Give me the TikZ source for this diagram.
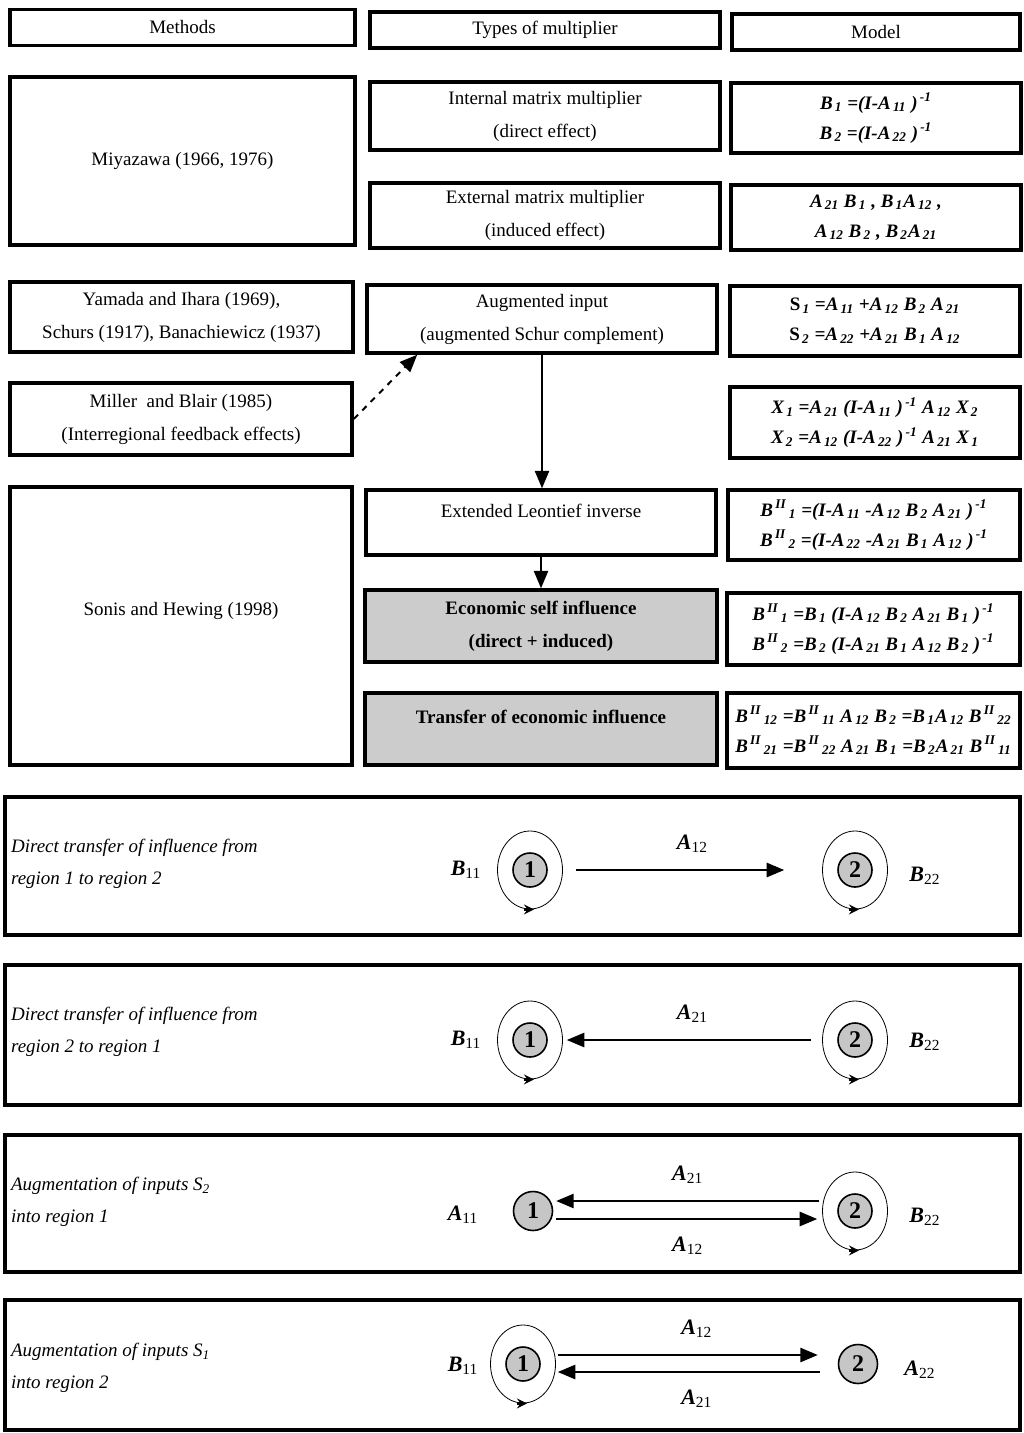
\documentclass[tikz,border=0pt]{standalone}
\usepackage{fontspec}
\setmainfont{Liberation Serif}
\usetikzlibrary{arrows,shapes.geometric}

\newcommand{\lowr}[1]{\textsubscript{\,#1}}
\newcommand{\highr}[1]{\textsuperscript{\,#1}}
\newcommand{\dprime}{\textsuperscript{\,II}}
\newcommand{\mlab}[2]{\textbf{\textit{#1}}\textsubscript{#2}}

\begin{document}
\begin{tikzpicture}[x=0.5pt,y=-0.5pt,
    every node/.style={font=\fontsize{9.5}{16.5}\selectfont},
    box/.style={draw, line width=1.8pt, align=center, inner sep=0pt},
    headbox/.style={box, minimum height=18pt},
    typebox/.style={box, minimum width=175pt, minimum height=33.5pt},
    modelbox/.style={box, minimum width=145pt, minimum height=35pt,
        font=\bfseries\itshape\fontsize{9.5}{15}\selectfont},
    greybox/.style={typebox, minimum width=176pt, minimum height=36pt, fill=gray!40,
        font=\bfseries\fontsize{9.5}{16.5}\selectfont},
    panel/.style={draw, line width=1.8pt, minimum width=507.5pt, inner sep=0pt},
    caption/.style={anchor=west, align=left, font=\itshape\fontsize{9.5}{16}\selectfont},
    region/.style={circle, draw, thick, fill=gray!45, minimum size=17pt, inner sep=0pt,
        font=\bfseries\fontsize{12}{12}\selectfont},
    loop/.style={ellipse, draw, thin, minimum width=32.5pt, minimum height=39pt},
    tag/.style={font=\fontsize{11}{11}\selectfont},
    flow/.style={->, >=triangle 45, line width=1pt},
    turn/.style={->, >=stealth, line width=1.2pt},
  ]
    \useasboundingbox (0,0) rectangle (1023,1433);

    % Header row
    \node[headbox, minimum width=172.5pt] (HeadMethods) at (182.5,27.5) {Methods};
    \node[headbox, minimum width=175pt] (HeadTypes) at (545,30) {Types of multiplier};
    \node[headbox, minimum width=144pt] (HeadModel) at (876,32) {Model};

    % Methods column
    \node[box, minimum width=172.5pt, minimum height=84pt] (Miyazawa) at (182.5,161) {Miyazawa (1966, 1976)};
    \node[box, minimum width=171.5pt, minimum height=35pt] (Yamada) at (181.5,317) {Yamada and Ihara (1969),\\Schurs (1917), Banachiewicz (1937)};
    \node[box, minimum width=171pt, minimum height=36pt] (Miller) at (181,419) {Miller\ \ and Blair (1985)\\(Interregional feedback effects)};
    \node[box, minimum width=171pt, minimum height=139pt] (Sonis) at (181,626) {Sonis and Hewing (1998)\\[-4pt]\strut};

    % Types of multiplier column
    \node[typebox, minimum height=34pt] (Internal) at (545,116) {Internal matrix multiplier\\(direct effect)};
    \node[typebox, minimum height=32.5pt] (External) at (545,215.5) {External matrix multiplier\\(induced effect)};
    \node[typebox, minimum height=34pt] (Augmented) at (542,319) {Augmented input\\(augmented Schur complement)};
    \node[typebox, minimum height=32.5pt] (Extended) at (541,522.5) {Extended Leontief inverse\\[-10pt]\strut};
    \node[greybox] (SelfInfl) at (541,626) {Economic self influence\\(direct + induced)};
    \node[greybox] (Transfer) at (541,729) {Transfer of economic influence\\[-9pt]\strut};

    % Model column
    \node[modelbox] (ModelB) at (876,118) {B\lowr{1} =(I-A\lowr{11} )\highr{-1}\\B\lowr{2} =(I-A\lowr{22} )\highr{-1}};
    \node[modelbox, minimum height=32.5pt] (ModelAB) at (876,217.5) {A\lowr{21} B\lowr{1} , B\lowr{1}A\lowr{12} ,\\A\lowr{12} B\lowr{2} , B\lowr{2}A\lowr{21}};
    \node[modelbox] (ModelS) at (875,321) {{\upshape S}\lowr{1} =A\lowr{11} +A\lowr{12} B\lowr{2} A\lowr{21}\\{\upshape S}\lowr{2} =A\lowr{22} +A\lowr{21} B\lowr{1} A\lowr{12}};
    \node[modelbox, minimum height=35.5pt] (ModelX) at (875,422.5) {X\lowr{1} =A\lowr{21} (I-A\lowr{11} )\highr{-1} A\lowr{12} X\lowr{2}\\X\lowr{2} =A\lowr{12} (I-A\lowr{22} )\highr{-1} A\lowr{21} X\lowr{1}};
    \node[modelbox, minimum width=146pt] (ModelBpp) at (874,525) {B\dprime\lowr{1} =(I-A\lowr{11} -A\lowr{12} B\lowr{2} A\lowr{21} )\highr{-1}\\B\dprime\lowr{2} =(I-A\lowr{22} -A\lowr{21} B\lowr{1} A\lowr{12} )\highr{-1}};
    \node[modelbox, minimum width=146.5pt, minimum height=36pt] (ModelSelf) at (873.5,629) {B\dprime\lowr{1} =B\lowr{1} (I-A\lowr{12} B\lowr{2} A\lowr{21} B\lowr{1} )\highr{-1}\\B\dprime\lowr{2} =B\lowr{2} (I-A\lowr{21} B\lowr{1} A\lowr{12} B\lowr{2} )\highr{-1}};
    \node[modelbox, minimum width=146.5pt, minimum height=37.5pt] (ModelTransfer) at (873.5,730.5) {B\dprime\lowr{12} =B\dprime\lowr{11} A\lowr{12} B\lowr{2} =B\lowr{1}A\lowr{12} B\dprime\lowr{22}\\B\dprime\lowr{21} =B\dprime\lowr{22} A\lowr{21} B\lowr{1} =B\lowr{2}A\lowr{21} B\dprime\lowr{11}};

    % Links between the boxes
    \draw[flow, dashed] (Miller.east) -- (Augmented.196);
    \draw[flow] (Augmented.south) -- (Augmented.south |- Extended.north);
    \draw[flow] (Extended.south) -- (SelfInfl.north);

    % Panel 1: region 1 to region 2
    \node[panel, minimum height=69pt] (PanelA) at (512.5,866) {};
    \node[caption] (TextA) at (4,864) {Direct transfer of influence from\\region 1 to region 2};
    \node[region] (OneA) at (530,870) {1};
    \node[loop] (LoopOneA) at (OneA) {};
    \node[region] (TwoA) at (855,870) {2};
    \node[loop] (LoopTwoA) at (TwoA) {};
    \node[tag] (BOneA) at (466,870) {\mlab{B}{11}};
    \node[tag] (BTwoA) at (925,876) {\mlab{B}{22}};
    \draw[turn] ([xshift=-3pt]LoopOneA.south) -- ([xshift=2pt]LoopOneA.south);
    \draw[turn] ([xshift=-3pt]LoopTwoA.south) -- ([xshift=2pt]LoopTwoA.south);
    \draw[flow, shorten <=6.5pt, shorten >=19pt] (LoopOneA.east) -- (LoopTwoA.west)
        node[midway, above=5pt, tag] {\mlab{A}{12}};

    % Panel 2: region 2 to region 1
    \node[panel, minimum height=70pt] (PanelB) at (512.5,1035) {};
    \node[caption] (TextB) at (4,1032) {Direct transfer of influence from\\region 2 to region 1};
    \node[region] (OneB) at (530,1040) {1};
    \node[loop] (LoopOneB) at (OneB) {};
    \node[region] (TwoB) at (855,1040) {2};
    \node[loop] (LoopTwoB) at (TwoB) {};
    \node[tag] (BOneB) at (466,1040) {\mlab{B}{11}};
    \node[tag] (BTwoB) at (925,1042) {\mlab{B}{22}};
    \draw[turn] ([xshift=-3pt]LoopOneB.south) -- ([xshift=2pt]LoopOneB.south);
    \draw[turn] ([xshift=-3pt]LoopTwoB.south) -- ([xshift=2pt]LoopTwoB.south);
    \draw[flow, shorten <=5.5pt, shorten >=2pt] (LoopTwoB.west) -- (LoopOneB.east)
        node[midway, above=5pt, tag] {\mlab{A}{21}};

    % Panel 3: inputs S2 into region 1
    \node[panel, minimum height=68.5pt] (PanelC) at (512.5,1203.5) {};
    \node[caption] (TextC) at (4,1202) {Augmentation of inputs S\textsubscript{2}\\into region 1};
    \node[region, minimum size=19.5pt] (OneC) at (533,1211) {1};
    \node[region] (TwoC) at (855,1211) {2};
    \node[loop] (LoopTwoC) at (TwoC) {};
    \node[tag] (AOneC) at (463,1215) {\mlab{A}{11}};
    \node[tag] (BTwoC) at (925,1217) {\mlab{B}{22}};
    \draw[turn] ([xshift=-3pt]LoopTwoC.south) -- ([xshift=2pt]LoopTwoC.south);
    \draw[flow, shorten <=1.5pt, shorten >=1.5pt] ([yshift=5pt]LoopTwoC.west) -- ([yshift=5pt]OneC.east)
        node[midway, above=5pt, tag] {\mlab{A}{21}};
    \draw[flow, shorten <=1.5pt, shorten >=2.5pt] ([yshift=-4pt]OneC.east) -- ([yshift=-4pt]LoopTwoC.west)
        node[midway, below=5pt, tag] {\mlab{A}{12}};

    % Panel 4: inputs S1 into region 2
    \node[panel, minimum height=65pt] (PanelD) at (512.5,1365) {};
    \node[caption] (TextD) at (4,1368) {Augmentation of inputs S\textsubscript{1}\\into region 2};
    \node[region] (OneD) at (523,1364) {1};
    \node[loop] (LoopOneD) at (OneD) {};
    \node[region, minimum size=19.5pt] (TwoD) at (858,1364) {2};
    \node[tag] (BOneD) at (463,1366) {\mlab{B}{11}};
    \node[tag] (ATwoD) at (920,1370) {\mlab{A}{22}};
    \draw[turn] ([xshift=-3pt]LoopOneD.south) -- ([xshift=2pt]LoopOneD.south);
    \draw[flow, shorten <=1pt, shorten >=10pt] ([yshift=4.5pt]LoopOneD.east) -- ([yshift=4.5pt]TwoD.west)
        node[midway, above=5pt, tag] {\mlab{A}{12}};
    \draw[flow, shorten <=9pt, shorten >=1pt] ([yshift=-4pt]TwoD.west) -- ([yshift=-4pt]LoopOneD.east)
        node[midway, below=5pt, tag] {\mlab{A}{21}};
\end{tikzpicture}
\end{document}
